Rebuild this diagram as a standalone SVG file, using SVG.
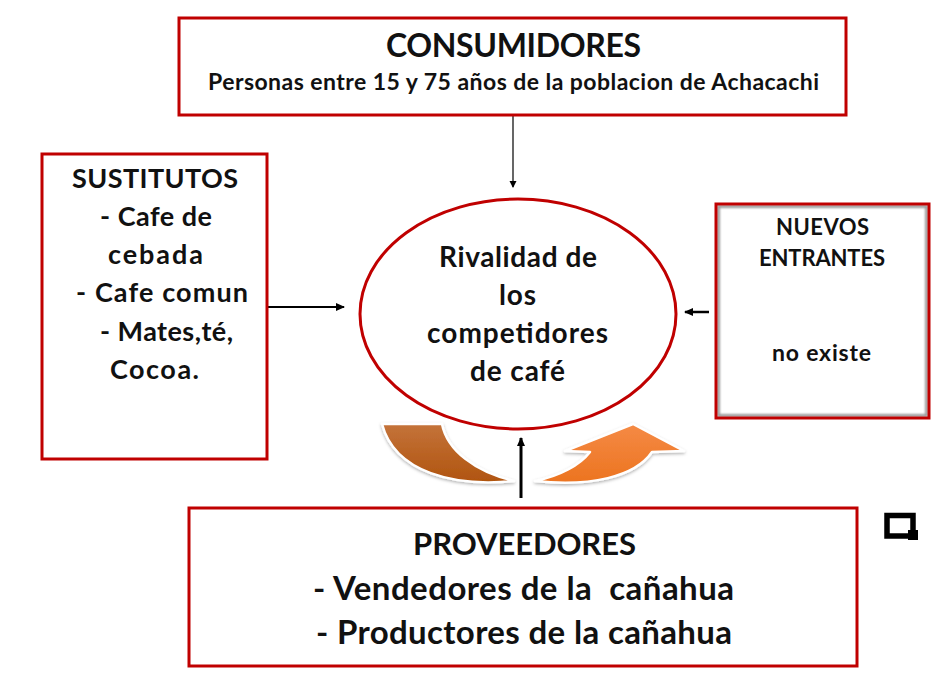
<svg xmlns="http://www.w3.org/2000/svg" width="944" height="675" viewBox="0 0 944 675">
<defs>
<linearGradient id="brown" x1="0" y1="0" x2="0" y2="1"><stop offset="0" stop-color="#c4733a"/><stop offset="1" stop-color="#b0540f"/></linearGradient>
<linearGradient id="orange" x1="0" y1="0" x2="0" y2="1"><stop offset="0" stop-color="#f58a45"/><stop offset="1" stop-color="#ec7420"/></linearGradient>
<filter id="soft" x="-10%" y="-10%" width="120%" height="125%"><feDropShadow dx="0" dy="1.5" stdDeviation="1.5" flood-color="#000" flood-opacity="0.3"/></filter>
<filter id="inner" x="-5%" y="-5%" width="110%" height="110%"><feGaussianBlur stdDeviation="1"/></filter>
<marker id="head" markerWidth="8" markerHeight="8" refX="6" refY="4" orient="auto" markerUnits="userSpaceOnUse"><path d="M0,0.5 L7,4 L0,7.500 Z" fill="#000"/></marker>
<marker id="headM" markerWidth="10" markerHeight="10" refX="8" refY="5" orient="auto" markerUnits="userSpaceOnUse"><path d="M0,1 L9,5 L0,9 Z" fill="#000"/></marker>
</defs>
<style>
text{font-family:"Lato","Carlito","Open Sans",sans-serif;font-weight:700;fill:#111;text-anchor:middle;white-space:pre}
.box{fill:#fff;stroke:#c00000;stroke-width:3}
.line{stroke:#000;fill:none}
.arrow{stroke:#fff;stroke-width:2.5;stroke-linejoin:round;filter:url(#soft)}
</style>
<rect width="944" height="675" fill="#fff"/>
<g id="curved-arrows">
<path class="arrow" fill="url(#brown)" d="M382,424 L442,424 C447,450 475,472 514,481 C455,487 395,473 382,424 Z"/>
<path class="arrow" fill="url(#orange)" d="M535,481 C560,476 580,465 590,452 L565,451 L633,424 L684,451 L652,452 C635,477 590,487 535,481 Z"/>
</g>
<g id="connectors">
<line class="line" x1="513" y1="115" x2="513" y2="187" stroke-width="1.2" marker-end="url(#head)"/>
<line class="line" x1="268" y1="307" x2="344" y2="307" stroke-width="2.2" marker-end="url(#headM)"/>
<line class="line" x1="709" y1="312" x2="685" y2="312" stroke-width="2.5" marker-end="url(#headM)"/>
<line class="line" x1="521" y1="498" x2="521" y2="438" stroke-width="3" marker-end="url(#headM)"/>
</g>
<g id="consumidores">
<rect class="box" x="179" y="18" width="667" height="97"/>
<text x="513.500" y="57" font-size="32" textLength="255">CONSUMIDORES</text>
<text x="513.500" y="90" font-size="23" textLength="611">Personas entre 15 y 75 años de la poblacion de Achacachi</text>
</g>
<g id="sustitutos">
<rect class="box" x="42" y="154" width="225" height="305"/>
<text x="155" y="188" font-size="27" textLength="166">SUSTITUTOS</text>
<text x="156" y="226" font-size="27" textLength="112">- Cafe de</text>
<text x="155.500" y="264" font-size="27" textLength="95">cebada</text>
<text x="162" y="302" font-size="27" textLength="172">- Cafe comun</text>
<text x="166.500" y="341" font-size="27" textLength="133">- Mates,té,</text>
<text x="154.500" y="379" font-size="27" textLength="89">Cocoa.</text>
</g>
<g id="rivalidad">
<ellipse cx="518" cy="314" rx="158" ry="115" fill="#fff" stroke="#c00000" stroke-width="3"/>
<text x="518" y="267" font-size="28" textLength="158">Rivalidad de</text>
<text x="517.500" y="305" font-size="28" textLength="37">los</text>
<text x="517.500" y="343" font-size="28" textLength="181">competidores</text>
<text x="517.500" y="381" font-size="28" textLength="95">de café</text>
</g>
<g id="nuevos-entrantes">
<rect x="716" y="204" width="213" height="214" fill="#fff"/>
<rect x="718.500" y="206.500" width="208" height="209" fill="none" stroke="#999" stroke-width="3" filter="url(#inner)"/>
<rect x="716" y="204" width="213" height="214" fill="none" stroke="#c00000" stroke-width="3"/>
<text x="822.500" y="235" font-size="22" textLength="93">NUEVOS</text>
<text x="822" y="266" font-size="22" textLength="126">ENTRANTES</text>
<text x="821.500" y="361" font-size="23" textLength="99">no existe</text>
</g>
<g id="proveedores">
<rect class="box" x="189" y="508" width="668" height="158"/>
<text x="524.500" y="555" font-size="31" textLength="223">PROVEEDORES</text>
<text x="523.500" y="600" font-size="33" textLength="421">- Vendedores de la  cañahua</text>
<text x="524" y="644" font-size="33" textLength="416">- Productores de la cañahua</text>
</g>
<g id="icon">
<rect x="887" y="515.500" width="26" height="20.500" fill="none" stroke="#000" stroke-width="5.500"/>
<rect x="908" y="530" width="10" height="10" fill="#000"/>
</g>
</svg>
